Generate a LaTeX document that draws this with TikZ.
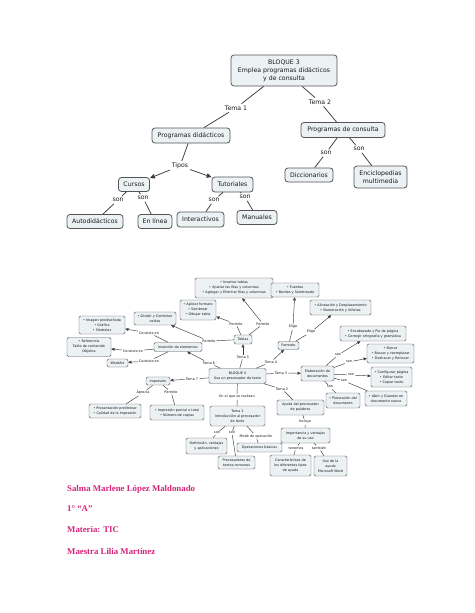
\documentclass[tikz,border=0pt]{standalone}
\usepackage{fontspec}
\usetikzlibrary{arrows.meta}
\newfontfamily\vfont{DejaVu Sans}
\newfontfamily\serifp{Liberation Serif}
\newcommand\fontA{\vfont\fontsize{6.2}{7.9}\selectfont}
\newcommand\fontB{\vfont\fontsize{3.4}{5}\selectfont}
\definecolor{boxfill}{RGB}{236,241,244}
\definecolor{boxline}{RGB}{85,85,85}
\definecolor{lineg}{RGB}{60,60,60}
\definecolor{txt}{RGB}{25,25,25}
\definecolor{pinkc}{RGB}{214,36,122}
\tikzset{
  boxA/.style={draw=boxline, fill=boxfill, rounded corners=3pt, line width=0.8pt, font=\fontA, text=txt, align=center, inner sep=0pt},
  labA/.style={font=\fontA, text=txt, inner sep=1.8pt},
  boxB/.style={draw=boxline, fill=boxfill, rounded corners=1.5pt, line width=0.45pt, font=\fontB, text=txt, align=center, inner sep=0pt},
  labB/.style={font=\fontB, text=txt, inner sep=1pt},
  lnA/.style={draw=lineg, line width=0.75pt},
  lnB/.style={draw=lineg, line width=0.45pt},
  arA/.style={-{Triangle[length=5pt,width=4.5pt]}},
  arB/.style={-{Triangle[length=3.2pt,width=2.9pt]}},
  namestyle/.style={font=\serifp\bfseries\fontsize{8.8}{10}\selectfont, text=pinkc, anchor=west, inner sep=0pt}
}
\begin{document}
\begin{tikzpicture}[x=1pt,y=-1pt]
\useasboundingbox[fill=white] (0,0) rectangle (474,613);
% ---------------- Map 1 ----------------
\node[boxA, minimum width=106pt, minimum height=31pt] (b3) at (284,70.5) {BLOQUE 3\\Emplea programas didácticos\\y de consulta};
\node[boxA, minimum width=78pt, minimum height=15pt] (pd) at (191,135.5) {Programas didácticos};
\node[boxA, minimum width=84pt, minimum height=15pt] (pc) at (343,130) {Programas de consulta};
\node[boxA, minimum width=31pt, minimum height=14pt] (cu) at (134,184.5) {Cursos};
\node[boxA, minimum width=41pt, minimum height=15pt] (tu) at (232.5,184.5) {Tutoriales};
\node[boxA, minimum width=56pt, minimum height=14pt] (au) at (95,221.5) {Autodidácticos};
\node[boxA, minimum width=34pt, minimum height=14pt] (el) at (155,221.5) {En línea};
\node[boxA, minimum width=47pt, minimum height=15pt] (it) at (200.5,219.5) {Interactivos};
\node[boxA, minimum width=40pt, minimum height=14pt] (ma) at (257,217.5) {Manuales};
\node[boxA, minimum width=48pt, minimum height=14pt] (di) at (309,175) {Diccionarios};
\node[boxA, minimum width=53pt, minimum height=22pt] (en) at (380.5,177) {Enciclopedias\\multimedia};
\node[labA] (t1) at (236,108) {Tema 1};
\node[labA] (t2) at (320,102) {Tema 2};
\node[labA] (tp) at (180,166) {Tipos};
\node[labA] (s1) at (118,200) {son};
\node[labA] (s2) at (143,198) {son};
\node[labA] (s3) at (214,200) {son};
\node[labA] (s4) at (245,197) {son};
\node[labA] (s5) at (326,153) {son};
\node[labA] (s6) at (359,149) {son};
\draw[lnA] (b3) -- (t1); \draw[lnA] (t1) -- (pd);
\draw[lnA] (b3) -- (t2); \draw[lnA] (t2) -- (pc);
\draw[lnA] (pd) -- (tp);
\draw[lnA,arA] (tp) -- (cu); \draw[lnA,arA] (tp) -- (tu);
\draw[lnA] (cu) -- (s1); \draw[lnA] (s1) -- (au);
\draw[lnA] (cu) -- (s2); \draw[lnA] (s2) -- (el);
\draw[lnA] (tu) -- (s3); \draw[lnA] (s3) -- (it);
\draw[lnA] (tu) -- (s4); \draw[lnA] (s4) -- (ma);
\draw[lnA] (pc) -- (s5); \draw[lnA] (s5) -- (di);
\draw[lnA] (pc) -- (s6); \draw[lnA] (s6) -- (en);
% ---------------- Map 2 ----------------
\node[boxB, minimum width=57pt, minimum height=15pt] (b4) at (237.5,376) {BLOQUE 4\\Usa un procesador de texto};
\node[boxB, minimum width=48pt, minimum height=9pt] (ins) at (178,347) {Inserción de elementos};
\node[boxB, minimum width=46pt, minimum height=18pt] (img) at (102,325) {• Imagen prediseñada\\• Gráfico\\• Símbolos};
\node[boxB, minimum width=44pt, minimum height=19pt] (ref) at (89,347) {• Referencia\\Tabla de contenido\\Objetos};
\node[boxB, minimum width=21pt, minimum height=8pt] (wa) at (117.5,363) {WordArt};
\node[boxB, minimum width=42pt, minimum height=13pt] (div) at (155,318.5) {• Dividir y Combinar\\celdas};
\node[boxB, minimum width=36pt, minimum height=20pt] (apl) at (198,310) {• Aplicar formato\\• Sombrear\\• Dibujar tabla};
\node[boxB, minimum width=78pt, minimum height=20pt] (itb) at (234,288) {• Insertar tablas\\• Ajustar las filas y columnas\\• Agregar y Eliminar filas y columnas};
\node[boxB, minimum width=18pt, minimum height=9pt] (tab) at (243,339.5) {Tablas};
\node[boxB, minimum width=21pt, minimum height=8pt] (fmt) at (288.5,345.5) {Formato};
\node[boxB, minimum width=48pt, minimum height=14pt] (fue) at (295,290) {• Fuentes\\• Bordes y Sombreado};
\node[boxB, minimum width=61pt, minimum height=15pt] (ali) at (340.5,307.5) {• Alineación y Desplazamiento\\• Numeración y Viñetas};
\node[boxB, minimum width=33pt, minimum height=15pt] (ela) at (317.5,373.5) {Elaboración de\\documentos};
\node[boxB, minimum width=66pt, minimum height=15pt] (enc) at (373,333.5) {• Encabezado y Pie de página\\• Corregir ortografía y gramática};
\node[boxB, minimum width=47pt, minimum height=19pt] (bor) at (390.5,353.5) {• Borrar\\• Buscar y reemplazar\\• Deshacer y Rehacer};
\node[boxB, minimum width=41pt, minimum height=20pt] (con) at (391.5,377) {• Configurar página\\• Editar texto\\• Copiar texto};
\node[boxB, minimum width=42pt, minimum height=15pt] (abr) at (386,398.5) {• Abrir y Guardar en\\documento nuevo};
\node[boxB, minimum width=34pt, minimum height=15pt] (pla) at (343,400.5) {• Planeación del\\documento};
\node[boxB, minimum width=24pt, minimum height=8pt] (imp) at (158,381) {Impresión};
\node[boxB, minimum width=52pt, minimum height=14pt] (pre) at (115,411) {• Presentación preliminar\\• Calidad de la impresión};
\node[boxB, minimum width=54pt, minimum height=15pt] (ipa) at (177,412.5) {• Impresión parcial o total\\• Número de copias};
\node[boxB, minimum width=55pt, minimum height=20pt] (tm1) at (237.5,416) {Tema 1\\Introducción al procesador\\de texto};
\node[boxB, minimum width=47pt, minimum height=15pt] (ayu) at (300.5,407.5) {Ayuda del procesador\\de palabras};
\node[boxB, minimum width=49pt, minimum height=15pt] (imt) at (305.5,435.5) {Importancia y ventajas\\de su uso};
\node[boxB, minimum width=41pt, minimum height=21pt] (car) at (290.5,465.5) {Características de\\los diferentes tipos\\de ayuda};
\node[boxB, minimum width=33pt, minimum height=20pt] (uso) at (330.5,466) {Uso de la\\ayuda\\Microsoft Word};
\node[boxB, minimum width=45pt, minimum height=9pt] (ope) at (259.5,447.5) {Operaciones básicas};
\node[boxB, minimum width=37pt, minimum height=13pt] (pro) at (236.5,462.5) {Procesadores de\\textos comunes};
\node[boxB, minimum width=41pt, minimum height=16pt] (def) at (206.5,446) {Definición, ventajas\\y aplicaciones};
% labels
\node[labB] (lt6) at (209,363) {Tema 6};
\node[labB] (lt5) at (243,357) {Tema 5};
\node[labB] (lt4) at (271,362) {Tema 4};
\node[labB] (lt3) at (281,373) {Tema 3};
\node[labB] (lt2) at (282,389) {Tema 2};
\node[labB] (lt7) at (192,379) {Tema 7};
\node[labB] (lre) at (237,397) {En el que se realizan};
\node[labB] (lc1) at (149,333) {Consiste en};
\node[labB] (lc2) at (133,351) {Consiste en};
\node[labB] (lc3) at (149,361) {Consiste en};
\node[labB] (lp1) at (236,324) {Permite};
\node[labB] (lp2) at (263,324) {Permite};
\node[labB] (lp3) at (209,341) {Permite};
\node[labB] (le1) at (293,327) {Elige};
\node[labB] (le2) at (311,332) {Elige};
\node[labB] (ls1) at (338,355) {son};
\node[labB] (ls2) at (349,362) {son};
\node[labB] (ls3) at (351,375) {son};
\node[labB] (ls4) at (344,381) {son};
\node[labB] (ls5) at (330,387) {son};
\node[labB] (lap) at (143,393) {Aprecia};
\node[labB] (lpe) at (171,392) {Permite};
\node[labB] (lsa) at (217,433) {son};
\node[labB] (lsb) at (232,433) {son};
\node[labB] (lmo) at (256,436) {Modo de operación};
\node[labB] (lin) at (305,422) {Incluye};
\node[labB] (lte) at (296,448) {tenemos};
\node[labB] (lta) at (319,448) {también};
% connectors
\draw[lnB] (b4) -- (lt6); \draw[lnB,arB] (lt6) -- (ins);
\draw[lnB] (b4) -- (lt5); \draw[lnB,arB] (lt5) -- (tab);
\draw[lnB] (b4) -- (lt4); \draw[lnB,arB] (lt4) -- (fmt);
\draw[lnB] (b4) -- (lt3); \draw[lnB,arB] (lt3) -- (ela);
\draw[lnB] (b4) -- (lt2); \draw[lnB] (lt2) -- (ayu);
\draw[lnB] (b4) -- (lt7); \draw[lnB,arB] (lt7) -- (imp);
\draw[lnB] (b4) -- (lre); \draw[lnB] (lre) -- (tm1);
\draw[lnB] (ins) -- (lc1); \draw[lnB,arB] (lc1) -- (img);
\draw[lnB] (ins) -- (lc2); \draw[lnB,arB] (lc2) -- (ref);
\draw[lnB] (ins) -- (lc3); \draw[lnB,arB] (lc3) -- (wa);
\draw[lnB] (tab) -- (lp1); \draw[lnB,arB] (lp1) -- (apl);
\draw[lnB] (tab) -- (lp2); \draw[lnB,arB] (lp2) -- (itb);
\draw[lnB] (tab) -- (lp3); \draw[lnB,arB] (lp3) -- (div);
\draw[lnB] (fmt) -- (le1); \draw[lnB,arB] (le1) -- (fue);
\draw[lnB] (fmt) -- (le2); \draw[lnB,arB] (le2) -- (ali);
\draw[lnB] (ela) -- (ls1); \draw[lnB,arB] (ls1) -- (enc);
\draw[lnB] (ela) -- (ls2); \draw[lnB,arB] (ls2) -- (bor);
\draw[lnB] (ela) -- (ls3); \draw[lnB,arB] (ls3) -- (con);
\draw[lnB] (ela) -- (ls4); \draw[lnB] (ls4) -- (abr);
\draw[lnB] (ela) -- (ls5); \draw[lnB] (ls5) -- (pla);
\draw[lnB] (imp) -- (lap); \draw[lnB] (lap) -- (pre);
\draw[lnB] (imp) -- (lpe); \draw[lnB] (lpe) -- (ipa);
\draw[lnB] (tm1) -- (lsa); \draw[lnB] (lsa) -- (def);
\draw[lnB] (tm1) -- (lsb); \draw[lnB] (lsb) -- (pro);
\draw[lnB] (tm1) -- (lmo); \draw[lnB] (lmo) -- (ope);
\draw[lnB] (ayu) -- (lin); \draw[lnB] (lin) -- (imt);
\draw[lnB] (imt) -- (lte); \draw[lnB] (lte) -- (car);
\draw[lnB] (imt) -- (lta); \draw[lnB] (lta) -- (uso);
% ---------------- Footer text ----------------
\node[namestyle] (n1) at (67,489) {Salma Marlene López Maldonado};
\node[namestyle] (n2) at (67,509) {1° “A”};
\node[namestyle] (n3) at (67,530) {Materia: TIC};
\node[namestyle] (n4) at (67,551) {Maestra Lilia Martínez};
\end{tikzpicture}
\end{document}
